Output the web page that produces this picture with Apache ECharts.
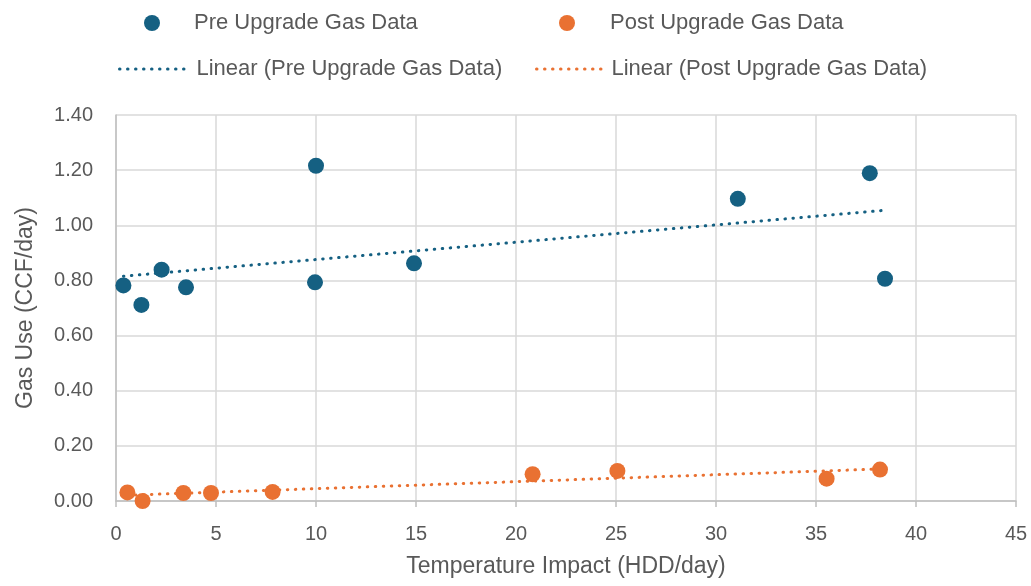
<!DOCTYPE html>
<html>
<head>
<meta charset="utf-8">
<script src="https://cdn.jsdelivr.net/npm/echarts@6/dist/echarts.min.js"></script>
<style>
  html, body { margin: 0; padding: 0; background: #fff; }
  #chart { width: 1031px; height: 586px; }
</style>
</head>
<body>
<div id="chart"></div>
<script>
// values
const preX = [0.37, 1.27, 2.28, 3.5, 10.0, 9.95, 14.9, 31.09, 37.69, 38.45]
const preY = [0.782, 0.711, 0.839, 0.775, 1.216, 0.793, 0.862, 1.096, 1.189, 0.806]
const postX = [0.57, 1.33, 3.37, 4.75, 7.83, 20.83, 25.07, 35.53, 38.2]
const postY = [0.031, 0.0, 0.029, 0.029, 0.033, 0.097, 0.109, 0.081, 0.114]

const seriesNames = ["Pre Upgrade Gas Data", "Post Upgrade Gas Data"]
const trendNames = ["Linear (Pre Upgrade Gas Data)", "Linear (Post Upgrade Gas Data)"]

const blue = "#156082"
const orange = "#E97132"
const textColor = "#595959"
const font = "Liberation Sans"

const pairs = (xs, ys) => xs.map((x, i) => [x, ys[i]])

// least squares fit, drawn from min x to max x like the spreadsheet trendline
const trend = (xs, ys) => {
  const n = xs.length
  const mx = xs.reduce((a, b) => a + b, 0) / n
  const my = ys.reduce((a, b) => a + b, 0) / n
  let sxy = 0
  let sxx = 0
  xs.forEach((x, i) => {
    sxy += (x - mx) * (ys[i] - my)
    sxx += (x - mx) * (x - mx)
  })
  const slope = sxy / sxx
  const icpt = my - slope * mx
  const x0 = Math.min(...xs)
  const x1 = Math.max(...xs)
  return [[x0, icpt + slope * x0], [x1, icpt + slope * x1]]
}

const chart = echarts.init(document.getElementById("chart"))

const legendText = { color: textColor, fontSize: 22, fontFamily: font }
const dotted = { width: 3, type: [0.5, 7.5], cap: "round" }

const option = {
  animation: false,
  legend: [
    {
      left: 139, top: 7, data: [seriesNames[0]], selectedMode: false,
      itemWidth: 16, itemHeight: 16,
      textStyle: Object.assign({ padding: [0, 0, 0, 29] }, legendText)
    },
    {
      left: 554, top: 7, data: [seriesNames[1]], selectedMode: false,
      itemWidth: 16, itemHeight: 16,
      textStyle: Object.assign({ padding: [0, 0, 0, 30] }, legendText)
    },
    {
      left: 113, top: 53, data: [trendNames[0]], selectedMode: false,
      itemWidth: 72, itemHeight: 14,
      itemStyle: { opacity: 0 },
      lineStyle: dotted,
      textStyle: Object.assign({ padding: [0, 0, 0, 0] }, legendText)
    },
    {
      left: 530, top: 53, data: [trendNames[1]], selectedMode: false,
      itemWidth: 70, itemHeight: 14,
      itemStyle: { opacity: 0 },
      lineStyle: dotted,
      textStyle: Object.assign({ padding: [0, 0, 0, 0] }, legendText)
    }
  ],
  grid: {
    left: 116,
    right: 15,
    top: 115,
    bottom: 85
  },
  xAxis: {
    type: "value",
    min: 0,
    max: 45,
    interval: 5,
    name: "Temperature Impact (HDD/day)",
    nameLocation: "middle",
    nameGap: 54,
    nameTextStyle: { color: textColor, fontSize: 23, fontFamily: font },
    axisLine: { show: true, lineStyle: { color: "#bfbfbf", width: 1.5 } },
    axisTick: { show: true, length: 6, lineStyle: { color: "#bfbfbf", width: 1.5 } },
    axisLabel: { color: textColor, fontSize: 20, fontFamily: font, margin: 23 },
    splitLine: { show: true, lineStyle: { color: "#d9d9d9", width: 1.5 } }
  },
  yAxis: {
    type: "value",
    min: 0,
    max: 1.4,
    interval: 0.2,
    name: "Gas Use (CCF/day)",
    nameLocation: "middle",
    nameGap: 79,
    nameTextStyle: { color: textColor, fontSize: 23, fontFamily: font },
    axisLine: { show: true, lineStyle: { color: "#bfbfbf", width: 1.5 } },
    axisTick: { show: false },
    axisLabel: {
      color: textColor, fontSize: 20, fontFamily: font, margin: 23,
      formatter: (v) => v.toFixed(2)
    },
    splitLine: { show: true, lineStyle: { color: "#d9d9d9", width: 1.5 } }
  },
  series: [
    {
      name: seriesNames[0],
      type: "scatter",
      data: pairs(preX, preY),
      symbolSize: 16,
      itemStyle: { color: blue, opacity: 1 },
      z: 3
    },
    {
      name: seriesNames[1],
      type: "scatter",
      data: pairs(postX, postY),
      symbolSize: 16,
      itemStyle: { color: orange, opacity: 1 },
      z: 3
    },
    {
      name: trendNames[0],
      type: "line",
      data: trend(preX, preY),
      symbol: "none",
      lineStyle: Object.assign({ color: blue }, dotted),
      itemStyle: { color: blue },
      z: 2
    },
    {
      name: trendNames[1],
      type: "line",
      data: trend(postX, postY),
      symbol: "none",
      lineStyle: Object.assign({ color: orange }, dotted),
      itemStyle: { color: orange },
      z: 2
    }
  ]
}

chart.setOption(option)
</script>
</body>
</html>
